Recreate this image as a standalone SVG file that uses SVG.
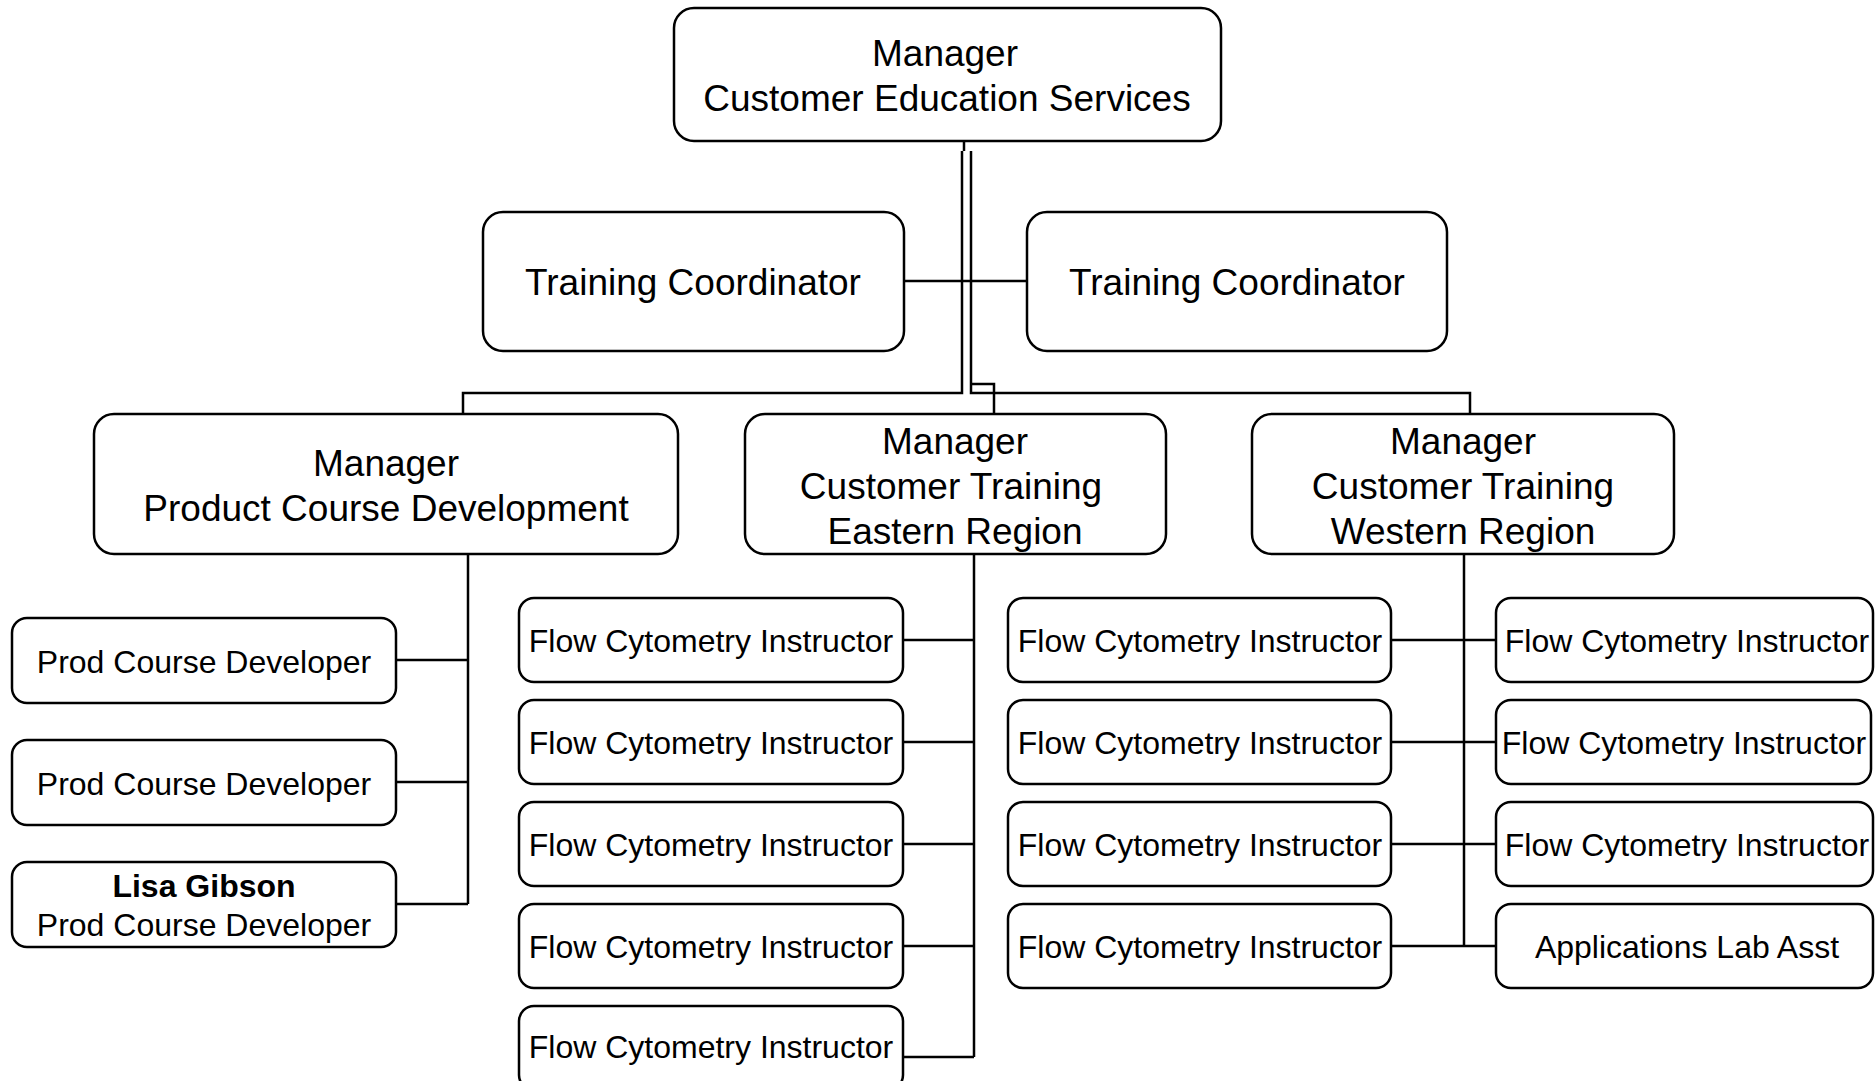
<svg xmlns="http://www.w3.org/2000/svg" width="1875" height="1081" viewBox="0 0 1875 1081">
<style>
  .box { fill: #ffffff; stroke: #000000; stroke-width: 2.5; }
  .ln { fill: none; stroke: #000000; stroke-width: 2.5; }
  .big { font-family: "Liberation Sans", Arial, sans-serif; font-size: 37px; fill: #000000; text-anchor: middle; }
  .sm { font-family: "Liberation Sans", Arial, sans-serif; font-size: 32px; fill: #000000; text-anchor: middle; }
  .b { font-weight: bold; }
</style>
<rect width="1875" height="1081" fill="#ffffff"/>
<g id="connectors">
  <path class="ln" d="M964 141 V151"/>
  <path class="ln" d="M962 151 V393 H463 V423"/>
  <path class="ln" d="M971 151 V393 H1470 V423"/>
  <path class="ln" d="M971 384 H994 V414"/>
  <path class="ln" d="M904 281 H1027"/>
  <path class="ln" d="M468 554 V904"/>
  <path class="ln" d="M396 660 H468 M396 782 H468 M396 904 H468"/>
  <path class="ln" d="M974 554 V1057"/>
  <path class="ln" d="M903 640 H974 M903 742 H974 M903 844 H974 M903 946 H974 M903 1057 H974"/>
  <path class="ln" d="M1464 554 V946"/>
  <path class="ln" d="M1391 640 H1496 M1391 742 H1496 M1391 844 H1496 M1391 946 H1496"/>
</g>
<g id="n-top">
  <rect class="box" x="674" y="8" width="547" height="133" rx="20"/>
  <text class="big" x="945" y="66">Manager</text>
  <text class="big" x="947" y="111">Customer Education Services</text>
</g>
<g id="n-tc1">
  <rect class="box" x="483" y="212" width="421" height="139" rx="20"/>
  <text class="big" x="693" y="295">Training Coordinator</text>
</g>
<g id="n-tc2">
  <rect class="box" x="1027" y="212" width="420" height="139" rx="20"/>
  <text class="big" x="1237" y="295">Training Coordinator</text>
</g>
<g id="n-pcd">
  <rect class="box" x="94" y="414" width="584" height="140" rx="20"/>
  <text class="big" x="386" y="476">Manager</text>
  <text class="big" x="386" y="521">Product Course Development</text>
</g>
<g id="n-east">
  <rect class="box" x="745" y="414" width="421" height="140" rx="20"/>
  <text class="big" x="955" y="454">Manager</text>
  <text class="big" x="951" y="499">Customer Training</text>
  <text class="big" x="955" y="544">Eastern Region</text>
</g>
<g id="n-west">
  <rect class="box" x="1252" y="414" width="422" height="140" rx="20"/>
  <text class="big" x="1463" y="454">Manager</text>
  <text class="big" x="1463" y="499">Customer Training</text>
  <text class="big" x="1463" y="544">Western Region</text>
</g>
<g id="n-pd1">
  <rect class="box" x="12" y="618" width="384" height="85" rx="15"/>
  <text class="sm" x="204" y="673">Prod Course Developer</text>
</g>
<g id="n-pd2">
  <rect class="box" x="12" y="740" width="384" height="85" rx="15"/>
  <text class="sm" x="204" y="795">Prod Course Developer</text>
</g>
<g id="n-pd3">
  <rect class="box" x="12" y="862" width="384" height="85" rx="15"/>
  <text class="sm b" x="204" y="897">Lisa Gibson</text>
  <text class="sm" x="204" y="936">Prod Course Developer</text>
</g>
<g id="n-e1">
  <rect class="box" x="519" y="598" width="384" height="84" rx="15"/>
  <text class="sm" x="711" y="652">Flow Cytometry Instructor</text>
</g>
<g id="n-e2">
  <rect class="box" x="519" y="700" width="384" height="84" rx="15"/>
  <text class="sm" x="711" y="754">Flow Cytometry Instructor</text>
</g>
<g id="n-e3">
  <rect class="box" x="519" y="802" width="384" height="84" rx="15"/>
  <text class="sm" x="711" y="856">Flow Cytometry Instructor</text>
</g>
<g id="n-e4">
  <rect class="box" x="519" y="904" width="384" height="84" rx="15"/>
  <text class="sm" x="711" y="958">Flow Cytometry Instructor</text>
</g>
<g id="n-e5">
  <rect class="box" x="519" y="1006" width="384" height="84" rx="15"/>
  <text class="sm" x="711" y="1058">Flow Cytometry Instructor</text>
</g>
<g id="n-w1">
  <rect class="box" x="1008" y="598" width="383" height="84" rx="15"/>
  <text class="sm" x="1200" y="652">Flow Cytometry Instructor</text>
</g>
<g id="n-w2">
  <rect class="box" x="1008" y="700" width="383" height="84" rx="15"/>
  <text class="sm" x="1200" y="754">Flow Cytometry Instructor</text>
</g>
<g id="n-w3">
  <rect class="box" x="1008" y="802" width="383" height="84" rx="15"/>
  <text class="sm" x="1200" y="856">Flow Cytometry Instructor</text>
</g>
<g id="n-w4">
  <rect class="box" x="1008" y="904" width="383" height="84" rx="15"/>
  <text class="sm" x="1200" y="958">Flow Cytometry Instructor</text>
</g>
<g id="n-w5">
  <rect class="box" x="1496" y="598" width="377" height="84" rx="15"/>
  <text class="sm" x="1687" y="652">Flow Cytometry Instructor</text>
</g>
<g id="n-w6">
  <rect class="box" x="1496" y="700" width="375" height="84" rx="15"/>
  <text class="sm" x="1684" y="754">Flow Cytometry Instructor</text>
</g>
<g id="n-w7">
  <rect class="box" x="1496" y="802" width="377" height="84" rx="15"/>
  <text class="sm" x="1687" y="856">Flow Cytometry Instructor</text>
</g>
<g id="n-w8">
  <rect class="box" x="1496" y="904" width="377" height="84" rx="15"/>
  <text class="sm" x="1687" y="958">Applications Lab Asst</text>
</g>
</svg>
